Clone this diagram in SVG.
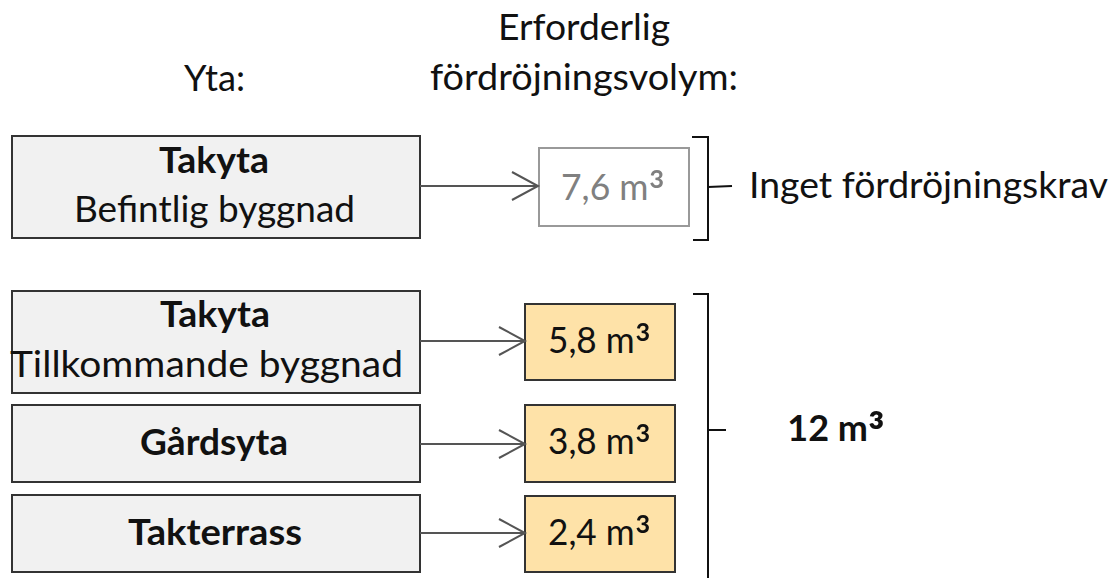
<svg xmlns="http://www.w3.org/2000/svg" width="1117" height="578" viewBox="0 0 1117 578">
  <style>
    text { font-family: Lato, "Open Sans", "Liberation Sans", sans-serif; font-size: 36px; fill: #111; text-anchor: middle; }
    .b { font-weight: bold; }
    .sup { font-size: 50px; }
    .area { fill: #f1f1f1; stroke: #333; stroke-width: 2; }
    .vol { fill: #fee2a8; stroke: #333; stroke-width: 2; }
    .none { fill: #fff; stroke: #999; stroke-width: 2; }
    .grey { fill: #808080; }
    .flow { stroke: #555; stroke-width: 2; fill: none; marker-end: url(#chev); }
    .brace { stroke: #111; stroke-width: 2; fill: none; }
  </style>
  <defs>
    <marker id="chev" markerUnits="userSpaceOnUse" markerWidth="30" markerHeight="32" refX="27" refY="15" orient="auto">
      <path d="M1,1 L27,15 L1,29" fill="none" stroke="#555" stroke-width="2"/>
    </marker>
  </defs>

  <!-- column headings -->
  <g id="headings">
    <text x="214.5" y="91" textLength="61" lengthAdjust="spacingAndGlyphs">Yta:</text>
    <text x="584" y="40" textLength="172" lengthAdjust="spacingAndGlyphs">Erforderlig</text>
    <text x="584" y="90" textLength="308" lengthAdjust="spacingAndGlyphs">fördröjningsvolym:</text>
  </g>

  <!-- surfaces -->
  <g id="area-existing-roof">
    <rect class="area" x="12" y="136" width="408" height="102"/>
    <text class="b" x="214" y="173" textLength="110" lengthAdjust="spacingAndGlyphs">Takyta</text>
    <text x="214.5" y="222" textLength="281" lengthAdjust="spacingAndGlyphs">Befintlig byggnad</text>
  </g>
  <g id="area-new-roof">
    <rect class="area" x="12" y="291" width="408" height="102"/>
    <text class="b" x="215" y="327" textLength="110" lengthAdjust="spacingAndGlyphs">Takyta</text>
    <text x="206.5" y="377" textLength="393" lengthAdjust="spacingAndGlyphs">Tillkommande byggnad</text>
  </g>
  <g id="area-yard">
    <rect class="area" x="12" y="405" width="408" height="77"/>
    <text class="b" x="214" y="455" textLength="148" lengthAdjust="spacingAndGlyphs">Gårdsyta</text>
  </g>
  <g id="area-terrace">
    <rect class="area" x="12" y="495" width="408" height="77"/>
    <text class="b" x="215" y="545" textLength="174" lengthAdjust="spacingAndGlyphs">Takterrass</text>
  </g>

  <!-- volumes (the cube sign is set larger and lowered to sit like a superscript) -->
  <g id="vol-existing">
    <rect class="none" x="539" y="148" width="150" height="78"/>
    <text class="grey" x="613" y="200" textLength="104" lengthAdjust="spacingAndGlyphs">7,6 m<tspan class="sup" dy="11">³</tspan></text>
  </g>
  <g id="vol-new-roof">
    <rect class="vol" x="525" y="304" width="150" height="76"/>
    <text x="599.5" y="353" textLength="103" lengthAdjust="spacingAndGlyphs">5,8 m<tspan class="sup" dy="11">³</tspan></text>
  </g>
  <g id="vol-yard">
    <rect class="vol" x="525" y="405" width="150" height="77"/>
    <text x="599.5" y="454" textLength="103" lengthAdjust="spacingAndGlyphs">3,8 m<tspan class="sup" dy="11">³</tspan></text>
  </g>
  <g id="vol-terrace">
    <rect class="vol" x="525" y="496" width="150" height="76"/>
    <text x="599.5" y="545" textLength="103" lengthAdjust="spacingAndGlyphs">2,4 m<tspan class="sup" dy="11">³</tspan></text>
  </g>

  <!-- connectors -->
  <g id="connectors">
    <line class="flow" x1="420" y1="186" x2="538" y2="186"/>
    <line class="flow" x1="420" y1="341" x2="525" y2="341"/>
    <line class="flow" x1="420" y1="444" x2="525" y2="444"/>
    <line class="flow" x1="420" y1="533" x2="525" y2="533"/>
  </g>

  <!-- grouping brackets -->
  <g id="bracket-no-req">
    <path class="brace" d="M692,137 H708 V240 H693"/>
    <path class="brace" d="M708,187 L732,186"/>
    <text x="928.5" y="198" textLength="359" lengthAdjust="spacingAndGlyphs">Inget fördröjningskrav</text>
  </g>
  <g id="bracket-total">
    <path class="brace" d="M693,294 H708 V578"/>
    <path class="brace" d="M708,430 H726"/>
    <text class="b" x="836" y="441">12 m<tspan class="sup" dy="11">³</tspan></text>
  </g>
</svg>
